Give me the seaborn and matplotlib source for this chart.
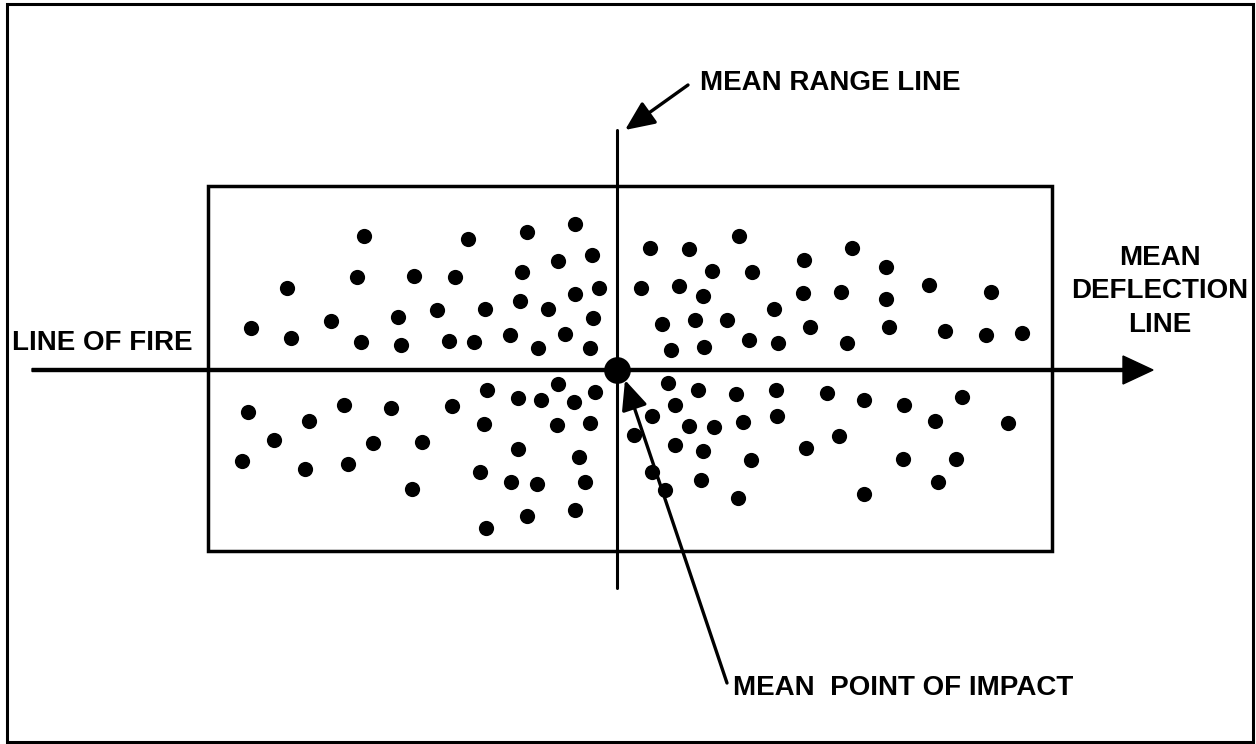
import pandas as pd
import matplotlib
matplotlib.use("Agg")
import matplotlib.pyplot as plt
from matplotlib.patches import Rectangle
import seaborn as sns

# Impact points, measured from the mean point of impact
# (deflection: right is +, range: beyond the MPI is +)
deflection = [
    # beyond, left of mean range line
    -253, -149, -90, -42, -59, -25, -330, -260, -203, -162, -95, -42, -18, -366, -326,
    -286, -219, -180, -132, -97, -69, -24, -256, -216, -168, -143, -107, -79, -52, -27,
    # beyond, right
    33, 72, 122, 187, 235, 269, 95, 135, 24, 62, 86, 186, 224, 269, 312,
    374, 157, 45, 78, 110, 193, 272, 328, 369, 405, 54, 87, 132, 161, 230,
    # short, left
    -369, -308, -273, -226, -165, -130, -99, -76, -59, -43, -22, -343, -244, -195, -133,
    -60, -27, -375, -312, -269, -99, -38, -205, -137, -106, -80, -32, -90, -42, -131,
    # short, right
    51, 81, 119, 159, 210, 247, 287, 345, 58, 35, 72, 97, 126, 160, 318,
    391, 17, 58, 86, 222, 189, 134, 286, 339, 35, 48, 84, 321, 121, 247,
]
range_offset = [
    134, 131, 138, 146, 109, 115, 82, 93, 94, 93, 98, 76, 82, 42, 32,
    49, 53, 60, 61, 69, 61, 52, 28, 25, 29, 28, 35, 22, 36, 22,
    122, 121, 134, 110, 122, 103, 99, 98, 82, 84, 74, 77, 78, 71, 85,
    78, 61, 46, 50, 50, 43, 43, 39, 35, 37, 20, 23, 30, 27, 27,
    -42, -51, -35, -38, -36, -20, -28, -30, -14, -32, -22, -70, -73, -72, -54,
    -55, -53, -91, -99, -94, -79, -87, -119, -102, -112, -114, -112, -146, -140, -158,
    -13, -20, -24, -20, -23, -30, -35, -27, -35, -46, -56, -57, -52, -46, -51,
    -53, -65, -75, -81, -66, -78, -90, -89, -89, -102, -120, -110, -112, -128, -124,
]

# dispersion box (left, bottom, right, top)
box = (-409, -181, 435, 184)

label_range = "MEAN RANGE LINE"
label_deflection = ["MEAN", "DEFLECTION", "LINE"]
label_fire = "LINE OF FIRE"
label_mpi = "MEAN  POINT OF IMPACT"

sns.set_style("white")
plt.rcParams["font.family"] = ["Liberation Sans", "DejaVu Sans"]

df = pd.DataFrame({"deflection": deflection, "range": range_offset})
mpi = pd.DataFrame({"deflection": [0], "range": [0]})

fig = plt.figure(figsize=(12.56, 7.44), dpi=100)
ax = fig.add_axes([0, 0, 1, 1])

sns.scatterplot(data=df, x="deflection", y="range", color="black", s=120,
                linewidth=0, legend=False, ax=ax, zorder=3)
sns.scatterplot(data=mpi, x="deflection", y="range", color="black", s=370,
                linewidth=0, legend=False, ax=ax, zorder=4)

# outer frame and dispersion box
ax.add_patch(Rectangle((-610, -372), 1246, 738, fill=False, lw=2.2, color="black"))
ax.add_patch(Rectangle((box[0], box[1]), box[2] - box[0], box[3] - box[1],
                       fill=False, lw=2.5, color="black", zorder=2))

# mean range line (vertical) and line of fire / mean deflection line
ax.plot([0, 0], [240, -218], color="black", lw=2.2, zorder=2)
ax.arrow(-585, 0, 1121, 0, width=3, head_width=28, head_length=30,
         length_includes_head=True, color="black", zorder=2)

arrow_kw = dict(arrowstyle="-|>,head_length=0.9,head_width=0.4",
                lw=2.4, color="black", mutation_scale=20, shrinkA=0, shrinkB=0)
ax.annotate("", xy=(8, 240), xytext=(71, 285), arrowprops=arrow_kw)
ax.annotate("", xy=(8, -10), xytext=(110, -313), arrowprops=arrow_kw, zorder=5)

txt = dict(fontsize=20, fontweight="bold", color="black")
ax.text(83, 287, label_range, ha="left", va="center", **txt)
for yy, s in zip([112, 79, 45], label_deflection):
    ax.text(543, yy, s, ha="center", va="center", **txt)
ax.text(-605, 27, label_fire, ha="left", va="center", **txt)
ax.text(116, -318, label_mpi, ha="left", va="center", **txt)

ax.set_xlim(-617, 639)
ax.set_ylim(-374, 370)
ax.axis("off")

fig.savefig("out.png", dpi=100)
plt.close(fig)
